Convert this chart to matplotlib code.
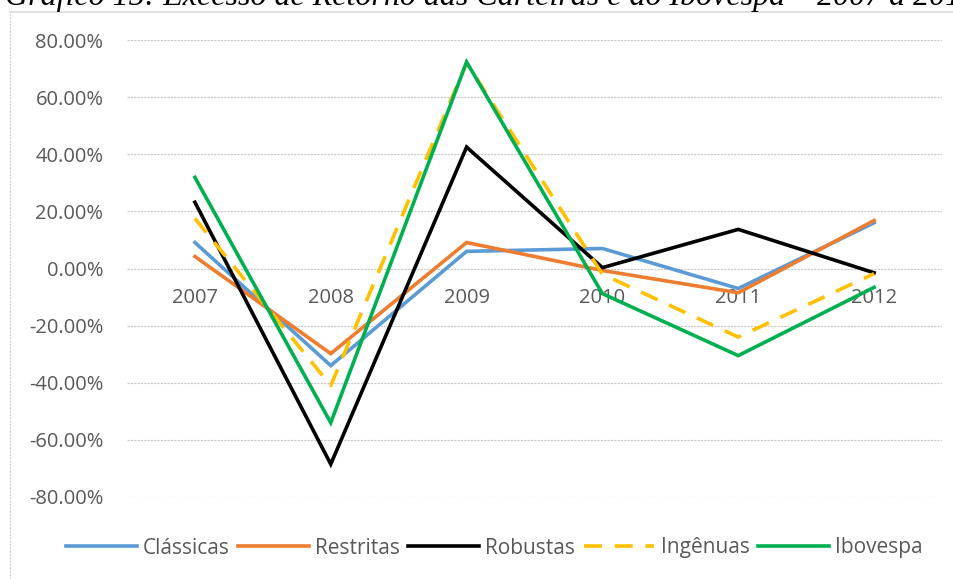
import matplotlib
matplotlib.use("Agg")
import matplotlib.pyplot as plt
from matplotlib.lines import Line2D
from matplotlib.ticker import FuncFormatter

# dados (excesso de retorno, em fracao)
anos = ["2007", "2008", "2009", "2010", "2011", "2012"]
classicas = [0.091, -0.340, 0.060, 0.070, -0.070, 0.160]
restritas = [0.042, -0.298, 0.091, -0.007, -0.085, 0.168]
robustas = [0.232, -0.685, 0.425, 0.003, 0.137, -0.015]
ingenuas = [0.175, -0.410, 0.720, -0.020, -0.240, -0.018]
ibovespa = [0.319, -0.540, 0.723, -0.088, -0.305, -0.066]

nomes = ["Clássicas", "Restritas", "Robustas", "Ingênuas", "Ibovespa"]
series = [classicas, restritas, robustas, ingenuas, ibovespa]
cores = ["#5B9BD5", "#ED7D31", "#000000", "#FFC000", "#00B050"]

W, H = 954, 579
plt.rcParams["font.family"] = ["Open Sans", "DejaVu Sans"]

fig = plt.figure(figsize=(W / 100, H / 100), dpi=100)
ax = fig.add_axes([127 / W, 1 - 497 / H, (942 - 127) / W, (497 - 40) / H])

x = list(range(len(anos)))
for nome, valores, cor in zip(nomes, series, cores):
    if nome == "Ingênuas":
        ax.plot(x, valores, color=cor, lw=2.6, dashes=(5, 3.5), label=nome,
                solid_capstyle="butt", dash_capstyle="butt")
    else:
        ax.plot(x, valores, color=cor, lw=2.6, label=nome, solid_joinstyle="miter")

ax.set_xlim(-0.5, len(anos) - 0.5)
ax.set_ylim(-0.8, 0.8)
ax.set_yticks([-0.8, -0.6, -0.4, -0.2, 0, 0.2, 0.4, 0.6, 0.8])
ax.yaxis.set_major_formatter(FuncFormatter(lambda v, p: "%.2f%%" % (v * 100)))
ax.set_xticks(x)
ax.set_xticklabels(anos)

# eixo das categorias passa pelo zero
ax.spines["bottom"].set_position(("data", 0))
for lado in ["top", "right", "left", "bottom"]:
    ax.spines[lado].set_color("none")
ax.tick_params(axis="both", length=0, labelsize=14.5, labelcolor="#595959")
ax.tick_params(axis="y", pad=17)
ax.tick_params(axis="x", pad=14)

ax.grid(axis="y", color="#c8c8c8", lw=0.8, ls=(0, (2, 1)))
ax.set_axisbelow(True)

leg = fig.legend(loc="center", bbox_to_anchor=(0.518, 1 - 548 / H), ncol=5,
                 frameon=False, fontsize=15, handlelength=3.4, handletextpad=0.3,
                 columnspacing=0.4, borderpad=0)
for t in leg.get_texts():
    t.set_color("#595959")

# moldura do grafico (so aparecem borda esquerda e superior)
fig.add_artist(Line2D([10 / W, 10 / W], [0, 1 - 12 / H], color="#d0d0d0", lw=0.8,
                      ls=(0, (2, 1))))
fig.add_artist(Line2D([10 / W, 1], [1 - 12 / H, 1 - 12 / H], color="#d9d9d9", lw=1.2))

# titulo cortado no topo
fig.text(5 / W, 1 - 5 / H, "Gráfico 15: Excesso de Retorno das Carteiras e do Ibovespa – 2007 a 2012",
         family="Liberation Serif", style="italic", fontsize=23, va="baseline", ha="left")

fig.savefig("out.png", dpi=100)
